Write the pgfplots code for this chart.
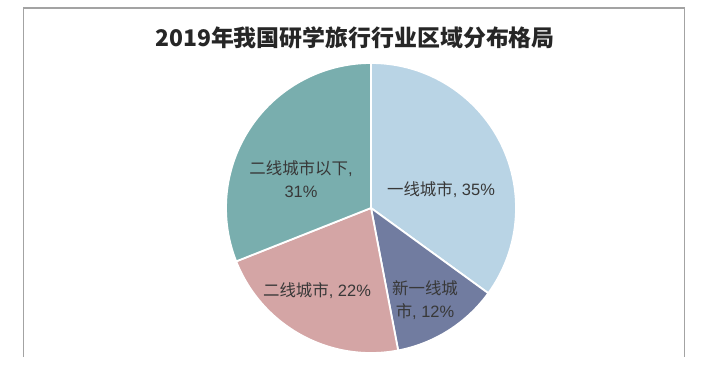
\documentclass[border=0pt]{standalone}
\usepackage{pgfplots}
\pgfplotsset{compat=1.18}
\usepackage{fontspec}
\setmainfont{Liberation Sans}
\newfontfamily\cjk{Noto Sans CJK SC}
\definecolor{c1}{HTML}{B9D4E5}
\definecolor{c2}{HTML}{717CA0}
\definecolor{c3}{HTML}{D4A5A5}
\definecolor{c4}{HTML}{79AEAE}
\definecolor{txt}{HTML}{383838}
\definecolor{frame}{HTML}{A3A3A3}
\begin{document}
\begin{tikzpicture}
\begin{axis}[
  width=711bp, height=357bp, scale only axis,
  xmin=0, xmax=711, ymin=0, ymax=357,
  hide axis, clip=false,
]
\fill[white] (axis cs:0,0) rectangle (axis cs:711,357);
\draw[frame, line width=1.3bp] (axis cs:23.5,0) -- (axis cs:23.5,349) -- (axis cs:684.5,349) -- (axis cs:684.5,0);
% pie: values 35, 12, 22, 31 (percent), starting at 90 deg, clockwise
\fill[c1, draw=white, line width=1.8bp] (axis cs:371,149) -- ++(90:145bp) arc[start angle=90, end angle={90-35*3.6}, radius=145bp] -- cycle;
\fill[c2, draw=white, line width=1.8bp] (axis cs:371,149) -- ++({90-35*3.6}:145bp) arc[start angle={90-35*3.6}, end angle={90-(35+12)*3.6}, radius=145bp] -- cycle;
\fill[c3, draw=white, line width=1.8bp] (axis cs:371,149) -- ++({90-47*3.6}:145bp) arc[start angle={90-47*3.6}, end angle={90-(47+22)*3.6}, radius=145bp] -- cycle;
\fill[c4, draw=white, line width=1.8bp] (axis cs:371,149) -- ++({90-69*3.6}:145bp) arc[start angle={90-69*3.6}, end angle={90-(69+31)*3.6}, radius=145bp] -- cycle;
% title
\node[font=\cjk\bfseries\fontsize{23}{26}\selectfont, text=black!85] at (axis cs:355,319) {2019年我国研学旅行行业区域分布格局};
% labels
\begin{scope}[every node/.style={font=\fontsize{16.5}{23.5}\selectfont, text=txt, align=center, inner sep=0pt}]
\node at (axis cs:441,167) {{\cjk 一线城市}, 35\%};
\node at (axis cs:425,57) {{\cjk 新一线城}\\{\cjk 市}, 12\%};
\node at (axis cs:317,66) {{\cjk 二线城市}, 22\%};
\node at (axis cs:301,178) {{\cjk 二线城市以下},\\31\%};
\end{scope}
\end{axis}
\end{tikzpicture}
\end{document}
